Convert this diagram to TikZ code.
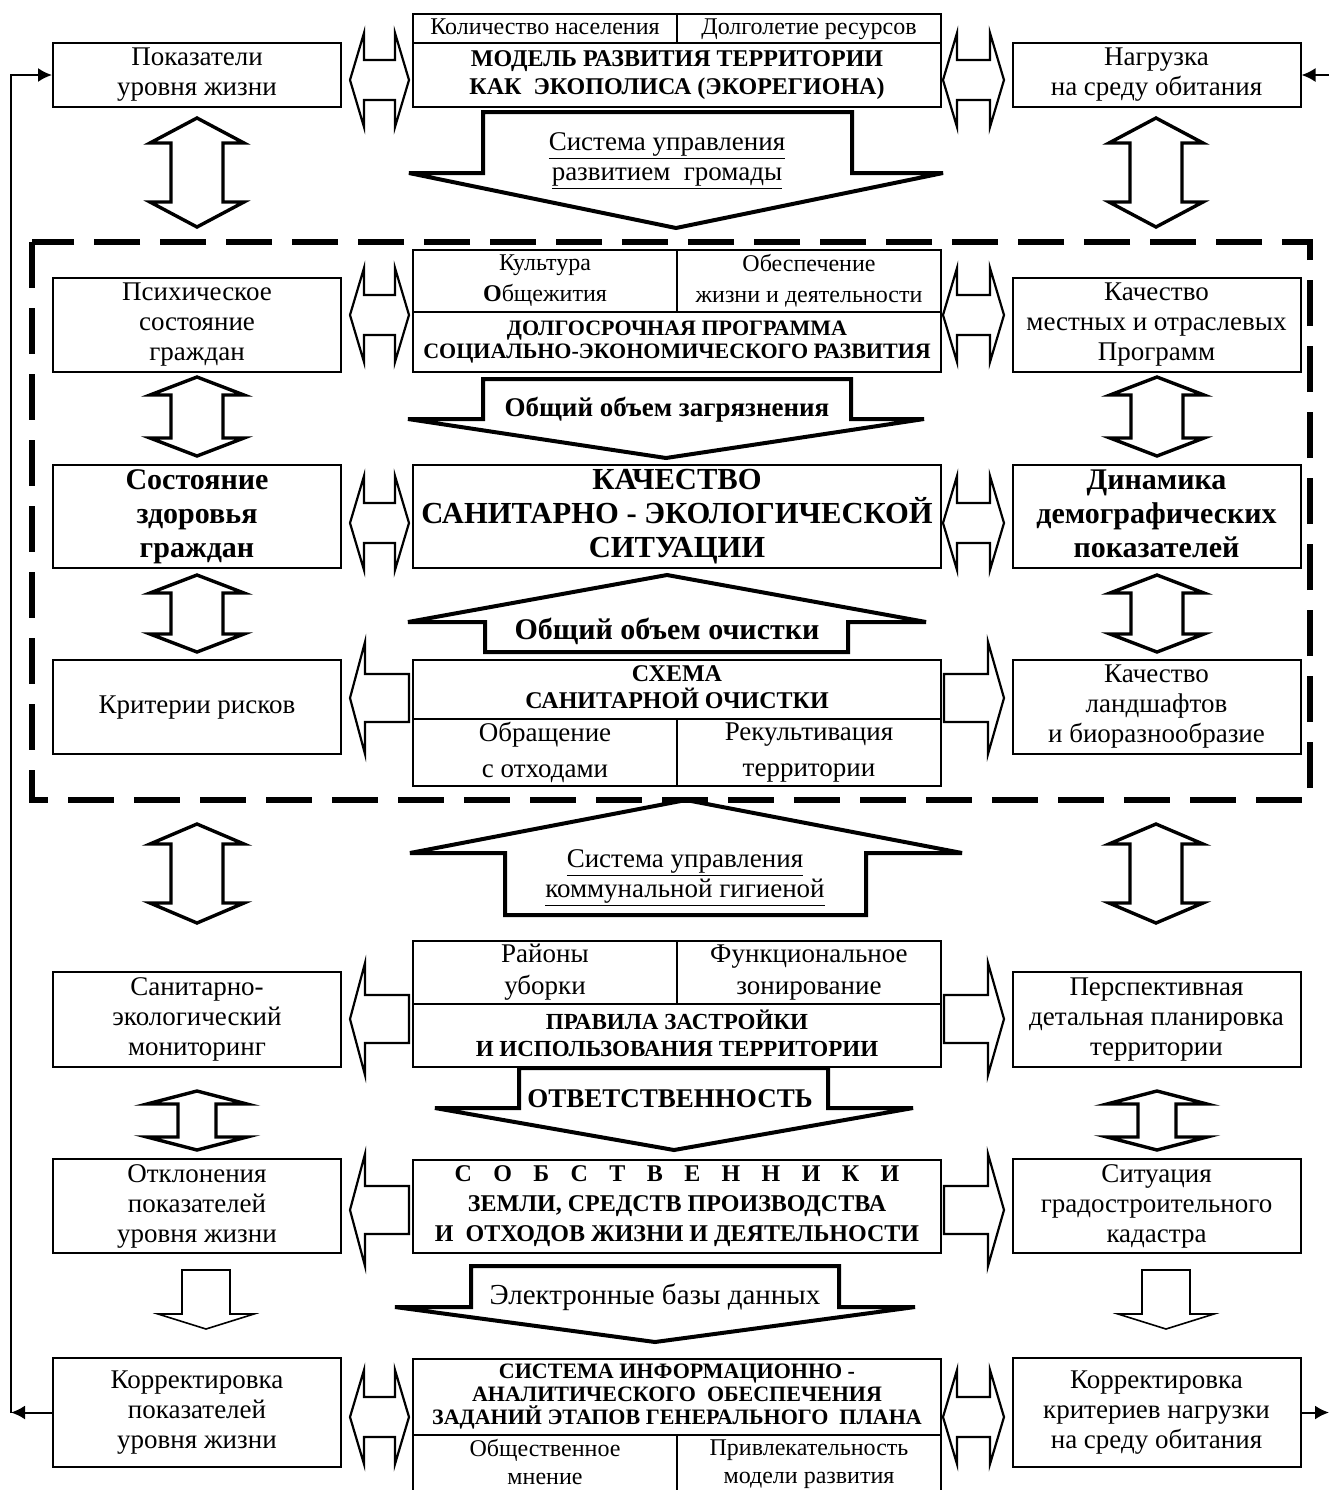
\documentclass[tikz,border=0pt]{standalone}
\usepackage{fontspec}
\setmainfont{Liberation Serif}
\usetikzlibrary{arrows.meta}

\newcommand{\lsp}{\hspace{10.7pt}}
\newcommand{\bstrut}{\rule[-0.2em]{0pt}{0.9em}}

% block arrows, coordinates in pixels of the picture
\newcommand{\hdarrow}[3]{\draw[harrow] (#1,#3) -- (#1+14,#3-47) -- (#1+14,#3-20) -- (#2-14,#3-20) -- (#2-14,#3-47) -- (#2,#3) -- (#2-14,#3+47) -- (#2-14,#3+20) -- (#1+14,#3+20) -- (#1+14,#3+47) -- cycle;}
\newcommand{\hlarrow}[3]{\draw[harrow] (#1,#3) -- (#1+15,#3-56) -- (#1+15,#3-24) -- (#2,#3-24) -- (#2,#3+24) -- (#1+15,#3+24) -- (#1+15,#3+56) -- cycle;}
\newcommand{\hrarrow}[3]{\draw[harrow] (#2,#3) -- (#2-16,#3-56) -- (#2-16,#3-24) -- (#1,#3-24) -- (#1,#3+24) -- (#2-16,#3+24) -- (#2-16,#3+56) -- cycle;}
\newcommand{\vdarrow}[6]{\draw[varrow] (#1,#2) -- (#1+#5,#2+#4) -- (#1+#6,#2+#4) -- (#1+#6,#3-#4) -- (#1+#5,#3-#4) -- (#1,#3) -- (#1-#5,#3-#4) -- (#1-#6,#3-#4) -- (#1-#6,#2+#4) -- (#1-#5,#2+#4) -- cycle;}
\newcommand{\vsarrow}[6]{\draw[thinarrow] (#1-#6,#2) -- (#1+#6,#2) -- (#1+#6,#3) -- (#1+#5,#3) -- (#1,#4) -- (#1-#5,#3) -- (#1-#6,#3) -- cycle;}
\newcommand{\blockarrow}[8]{\draw[bigarrow] (#2,#5) -- (#3,#5) -- (#3,#6) -- (#4,#6) -- (#8,#7) -- (#1,#6) -- (#2,#6) -- cycle;}

\tikzset{
  box/.style={draw, line width=1pt, align=center, inner sep=0pt, font=\fontsize{13.5}{15}\selectfont,
    execute at begin node=\bstrut, execute at end node=\bstrut},
  sidebox/.style={box, minimum width=144pt},
  cbox/.style={box, minimum width=264pt},
  cell/.style={box, minimum width=132pt},
  harrow/.style={line width=1.1pt},
  varrow/.style={line width=1.7pt},
  bigarrow/.style={line width=2pt, miter limit=4},
  thinarrow/.style={line width=0.8pt},
  fb/.style={line width=1pt, -{Latex[length=7pt,width=7pt]}},
}

\begin{document}
\begin{tikzpicture}[x=0.5pt, y=-0.5pt]
\useasboundingbox (0,0) rectangle (1330,1490);
\clip (0,0) rectangle (1330,1490);

% dashed frame
\draw[line width=2.6pt, dash pattern=on 23pt off 10pt] (32,242) rectangle (1310,800);

% row 1
\node[sidebox, minimum height=32pt] (pokaz) at (197,75) {Показатели\\уровня жизни};
\node[cell, minimum height=14.5pt, font=\fontsize{12}{14}\selectfont] (kolich) at (545,28.5) {Количество населения};
\node[cell, minimum height=14.5pt, font=\fontsize{12}{14}\selectfont] (dolgol) at (809,28.5) {Долголетие ресурсов};
\node[cbox, minimum height=32pt, font=\bfseries\fontsize{12}{14}\selectfont] (model) at (677,75) {МОДЕЛЬ РАЗВИТИЯ ТЕРРИТОРИИ\\КАК~ ЭКОПОЛИСА (ЭКОРЕГИОНА)};
\node[sidebox, minimum height=32pt] (nagr) at (1156.5,75) {Нагрузка\\на среду обитания};

% row 2
\node[sidebox, minimum height=47pt] (psikh) at (197,325) {Психическое\\состояние\\граждан};
\node[cell, minimum height=31pt, font=\fontsize{12}{15.5}\selectfont] (kultura) at (545,281) {Культура\\\textbf{О}бщежития};
\node[cell, minimum height=31pt, font=\fontsize{12}{15.5}\selectfont] (obesp) at (809,281) {Обеспечение\\жизни и деятельности};
\node[cbox, minimum height=30pt, font=\bfseries\fontsize{11}{11.5}\selectfont] (prog) at (677,342) {ДОЛГОСРОЧНАЯ ПРОГРАММА\\СОЦИАЛЬНО-ЭКОНОМИЧЕСКОГО РАЗВИТИЯ};
\node[sidebox, minimum height=47pt] (kachprog) at (1156.5,325) {Качество\\местных и отраслевых\\Программ};

% row 3
\node[sidebox, minimum height=51.5pt, font=\bfseries\fontsize{15}{17}\selectfont] (zdorov) at (197,516.5) {Состояние\\здоровья\\граждан};
\node[cbox, minimum height=51.5pt, font=\bfseries\fontsize{15.3}{17}\selectfont] (sanit) at (677,516.5) {КАЧЕСТВО\\САНИТАРНО - ЭКОЛОГИЧЕСКОЙ\\СИТУАЦИИ};
\node[sidebox, minimum height=51.5pt, font=\bfseries\fontsize{15}{17}\selectfont] (dinam) at (1156.5,516.5) {Динамика\\демографических\\показателей};

% row 4
\node[sidebox, minimum height=47pt] (kriter) at (197,707) {Критерии рисков};
\node[cbox, minimum height=29.5pt, font=\bfseries\fontsize{12}{13.5}\selectfont] (schema) at (677,689.5) {СХЕМА\\САНИТАРНОЙ ОЧИСТКИ};
\node[cell, minimum height=33.5pt, font=\fontsize{13.5}{18}\selectfont] (obrash) at (545,752.5) {Обращение\\с отходами};
\node[cell, minimum height=33.5pt, font=\fontsize{13.5}{18}\selectfont] (rekult) at (809,752.5) {Рекультивация\\территории};
\node[sidebox, minimum height=47pt] (landsh) at (1156.5,707) {Качество\\ландшафтов\\и биоразнообразие};

% row 5
\node[sidebox, minimum height=47.5pt] (monit) at (197,1019.5) {Санитарно-\\экологический\\мониторинг};
\node[cell, minimum height=31.5pt, font=\fontsize{13.5}{16}\selectfont] (rayony) at (545,972.5) {Районы\\уборки};
\node[cell, minimum height=31.5pt, font=\fontsize{13.5}{16}\selectfont] (zonir) at (809,972.5) {Функциональное\\зонирование};
\node[cbox, minimum height=31.5pt, font=\bfseries\fontsize{11.5}{13.5}\selectfont] (pravila) at (677,1035.5) {ПРАВИЛА ЗАСТРОЙКИ\\И ИСПОЛЬЗОВАНИЯ ТЕРРИТОРИИ};
\node[sidebox, minimum height=47.5pt] (persp) at (1156.5,1019.5) {Перспективная\\детальная планировка\\территории};

% row 6
\node[sidebox, minimum height=47pt] (otklon) at (197,1206) {Отклонения\\показателей\\уровня жизни};
\node[cbox, minimum height=46.5pt, font=\bfseries\fontsize{12}{15}\selectfont] (sobstv) at (677,1206.5) {С\lsp О\lsp Б\lsp С\lsp Т\lsp В\lsp Е\lsp Н\lsp Н\lsp И\lsp К\lsp И\\ЗЕМЛИ, СРЕДСТВ ПРОИЗВОДСТВА\\И~ ОТХОДОВ ЖИЗНИ И ДЕЯТЕЛЬНОСТИ};
\node[sidebox, minimum height=47pt] (kadastr) at (1156.5,1206) {Ситуация\\градостроительного\\кадастра};

% row 7
\node[sidebox, minimum height=54.5pt] (korrL) at (197,1412.5) {Корректировка\\показателей\\уровня жизни};
\node[cbox, minimum height=38pt, font=\bfseries\fontsize{11}{11.5}\selectfont] (sistema) at (677,1397) {СИСТЕМА ИНФОРМАЦИОННО -\\АНАЛИТИЧЕСКОГО~ ОБЕСПЕЧЕНИЯ\\ЗАДАНИЙ ЭТАПОВ ГЕНЕРАЛЬНОГО~ ПЛАНА};
\node[cell, minimum height=29pt, font=\fontsize{12}{14}\selectfont] (obshch) at (545,1464) {Общественное\\мнение};
\node[cell, minimum height=29pt, font=\fontsize{12}{14}\selectfont] (privl) at (809,1464) {Привлекательность\\модели развития};
\node[sidebox, minimum height=54.5pt] (korrR) at (1156.5,1412.5) {Корректировка\\критериев нагрузки\\на среду обитания};

% horizontal block arrows
\hdarrow{350}{409}{80}
\hdarrow{943}{1004}{80}
\hdarrow{350}{409}{315}
\hdarrow{943}{1004}{315}
\hdarrow{350}{409}{523}
\hdarrow{943}{1004}{523}
\hlarrow{350}{409}{698}
\hrarrow{944}{1004}{698}
\hlarrow{350}{409}{1019}
\hrarrow{944}{1004}{1019}
\hlarrow{350}{409}{1210}
\hrarrow{944}{1004}{1210}
\hdarrow{350}{409}{1417}
\hdarrow{943}{1004}{1417}

% vertical block arrows
\vdarrow{197}{118}{227}{25}{47}{26}
\vdarrow{1156}{118}{227}{25}{47}{26}
\vdarrow{197}{377}{456}{18}{47}{26}
\vdarrow{1157}{377}{456}{18}{47}{26}
\vdarrow{197}{575}{652}{18}{47}{26}
\vdarrow{1157}{575}{652}{18}{47}{26}
\vdarrow{197}{824}{923}{20}{47}{26}
\vdarrow{1156}{824}{923}{20}{47}{26}
\vdarrow{197}{1091}{1150}{13}{50}{19}
\vdarrow{1157}{1091}{1150}{13}{50}{19}
\vsarrow{206}{1270}{1314}{1329}{48}{24}
\vsarrow{1166}{1270}{1314}{1329}{48}{24}

% central arrows
\blockarrow{409}{483}{852}{943}{112}{173}{228}{676}
\node[align=center, font=\fontsize{13.5}{15}\selectfont] (tSysA) at (667,161) {\underline{Система управления}\\\underline{развитием~ громады}};
\blockarrow{408}{483}{851}{924}{379}{419}{458}{666}
\node[font=\bfseries\fontsize{13.5}{15}\selectfont] (tZagr) at (667,410) {Общий объем загрязнения};
\blockarrow{408}{485}{848}{926}{652}{622}{575}{667}
\node[font=\bfseries\fontsize{15}{17}\selectfont] (tOchist) at (667,631) {Общий объем очистки};
\blockarrow{410}{505}{866}{962}{915}{853}{800}{686}
\node[align=center, font=\fontsize{13.5}{15}\selectfont] (tSysB) at (685,878) {\underline{Система управления}\\\underline{коммунальной гигиеной}};
\blockarrow{435}{519}{828}{913}{1068}{1108}{1150}{674}
\node[font=\bfseries\fontsize{13.5}{15}\selectfont] (tOtv) at (670,1099) {ОТВЕТСТВЕННОСТЬ};
\blockarrow{395}{471}{839}{915}{1266}{1307}{1342}{655}
\node[font=\fontsize{14.5}{16}\selectfont] (tElektr) at (655,1297) {Электронные базы данных};

% feedback lines
\coordinate (fbl) at (11,1412.5);
\coordinate (fbtr) at (1329,75);
\coordinate (fbbr) at (1329,1412.5);
\draw[fb] (korrL.west) -- (fbl);
\draw[fb] (fbl) |- (pokaz.west);
\draw[fb] (fbtr) -- (nagr.east);
\draw[fb] (korrR.east) -- (fbbr);

\end{tikzpicture}
\end{document}
